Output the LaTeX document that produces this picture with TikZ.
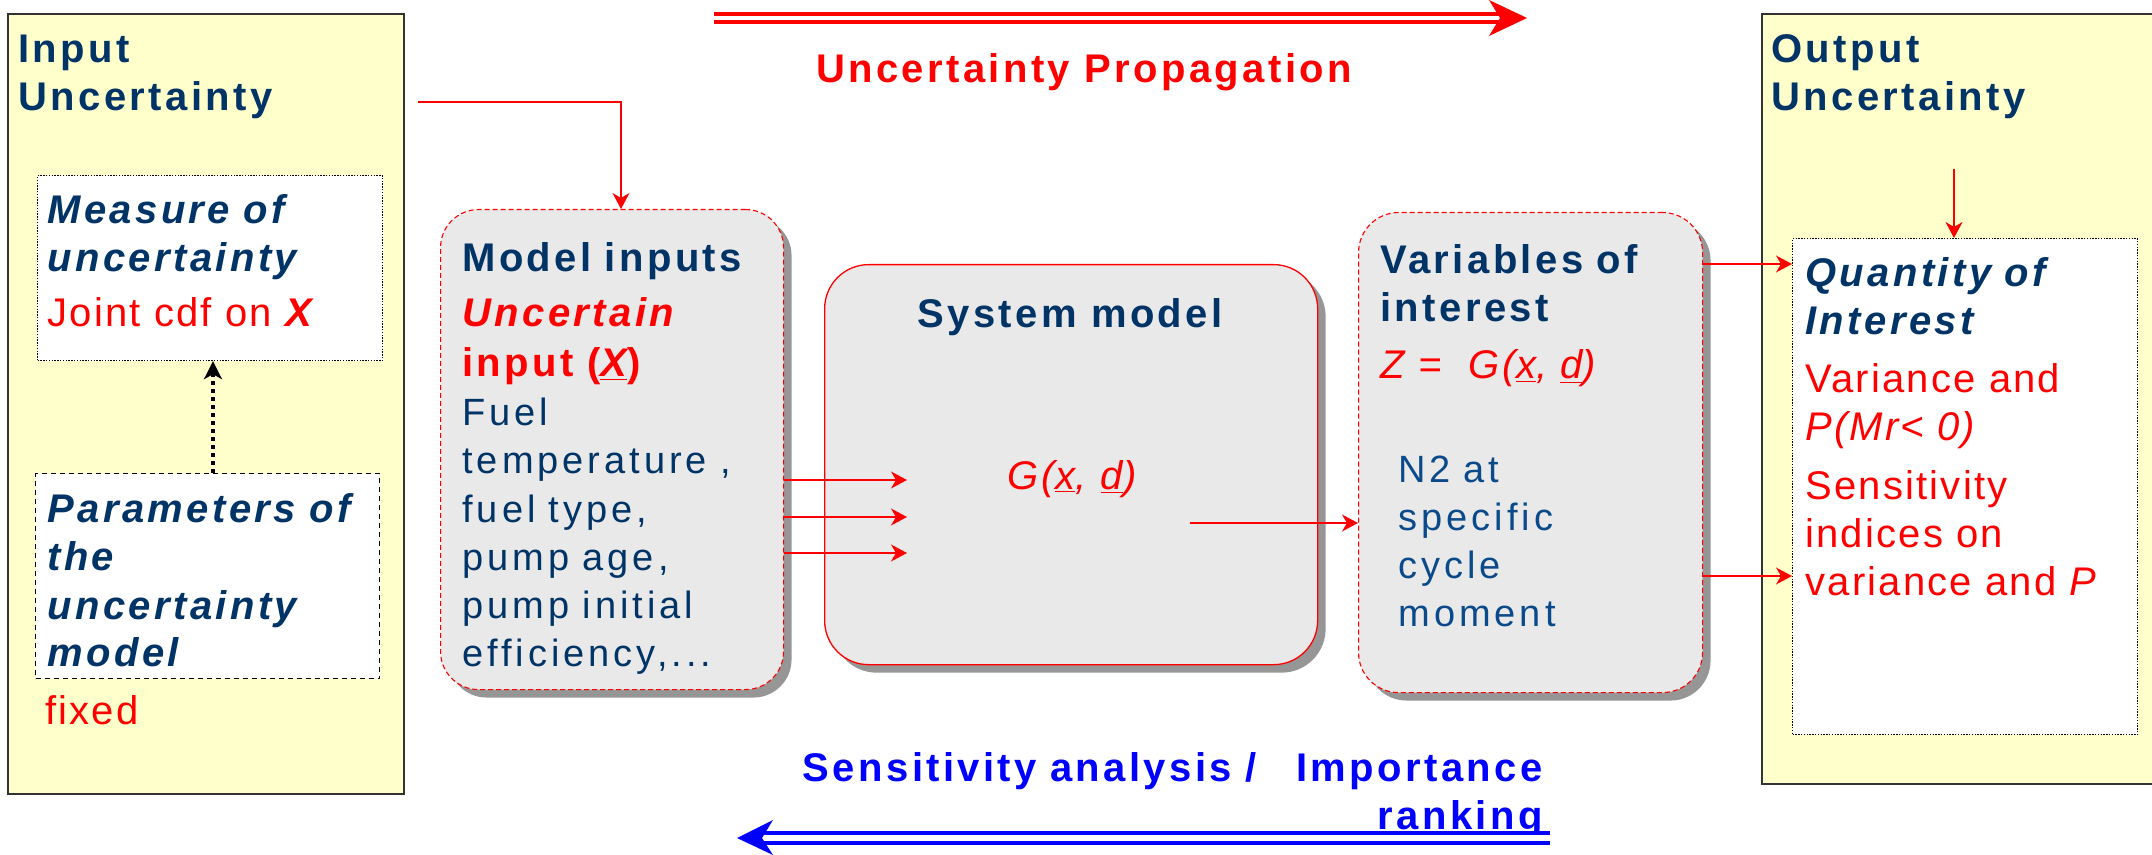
\documentclass[tikz,border=0pt]{standalone}
\usepackage{fontspec}
\setmainfont{Liberation Sans}
\newfontfamily\hdf[LetterSpace=8.5]{Liberation Sans}
\newfontfamily\bdf[LetterSpace=10.5]{Liberation Sans}
\newfontfamily\rdf[LetterSpace=5.5]{Liberation Sans}
\usetikzlibrary{arrows.meta,shadows}
\definecolor{dblue}{HTML}{003366}
\definecolor{mblue}{HTML}{0A4A8A}
\definecolor{yel}{HTML}{FFFFCC}
\definecolor{gfill}{HTML}{E9E9E9}
\definecolor{shad}{HTML}{969696}
\definecolor{rd}{HTML}{FF0000}
\definecolor{bl}{HTML}{0000FF}
\definecolor{boxline}{HTML}{333333}
\tikzset{
  ybox/.style={draw=boxline, line width=0.8pt, fill=yel, anchor=north west, inner sep=0pt},
  wdot/.style={draw=black, line width=0.6pt, dash pattern=on 0.7pt off 0.7pt, fill=white, anchor=north west, inner sep=0pt},
  wdash/.style={draw=black, line width=0.6pt, dash pattern=on 2.5pt off 2pt, fill=white, anchor=north west, inner sep=0pt},
  gbox/.style={fill=gfill, anchor=north west, inner sep=0pt, general shadow={fill=shad, shadow xshift=4pt, shadow yshift=-4pt}},
  rdash/.style={draw=rd, line width=0.55pt, dash pattern=on 2.5pt off 1.5pt},
  txt/.style={anchor=base west, inner sep=0pt, align=left, text width=230pt, font=\fontsize{20}{24}\selectfont},
  ctxt/.style={anchor=base, inner sep=0pt, font=\fontsize{20}{24}\selectfont},
  ra/.style={draw=rd, line width=0.65pt, -{Stealth[length=8pt,width=8.5pt,inset=2.5pt]}},
  dotarrow/.style={draw=black, line width=2pt, dash pattern=on 2pt off 2pt, -{Stealth[length=9pt,width=9pt,inset=2.5pt]}},
  dblarrow/.style={line width=1.75pt, double=white}
}
\begin{document}
\begin{tikzpicture}[x=0.5pt,y=-0.5pt]
\useasboundingbox (0,0) rectangle (2152,855);
% outer yellow boxes
\node[ybox, minimum width=198pt, minimum height=390pt] (inbox) at (7,13) {};
\node[ybox, minimum width=200pt, minimum height=385pt] (outbox) at (1761,13) {};
% white boxes
\node[wdot, minimum width=172.5pt, minimum height=92.5pt] (measure) at (37,175) {};
\node[wdash, minimum width=172pt, minimum height=102.5pt] (params) at (35,473) {};
\node[wdot, minimum width=172.5pt, minimum height=248pt] (quant) at (1792,238) {};
% grey rounded boxes
\node[gbox, rdash, rounded corners=19pt, minimum width=171.5pt, minimum height=240pt] (minputs) at (440,209) {};
\node[gbox, draw=rd, line width=0.65pt, rounded corners=22pt, minimum width=246.5pt, minimum height=200pt] (sysm) at (824,264) {};
\node[gbox, rdash, rounded corners=20pt, minimum width=172pt, minimum height=240pt] (vars) at (1358,212) {};

% texts
\node[txt] (intitle) at (18,63) {\hdf\bfseries\color{dblue}Input\\Uncertainty};
\node[txt] (outtitle) at (1771,63) {\hdf\bfseries\color{dblue}Output\\Uncertainty};
\node[txt] (measuretxt) at (47,224) {\hdf\bfseries\itshape\color{dblue}Measure of\\uncertainty\\[3.5pt]\rdf\mdseries\upshape\color{rd}Joint cdf on \hdf\bfseries\itshape X};
\node[txt] (paramstxt) at (47,523) {\hdf\bfseries\itshape\color{dblue}Parameters of\\the\\uncertainty\\model};
\node[txt] (fixedtxt) at (45,724) {\rdf\color{rd}fixed};
\node[txt] (minputstxt) at (462,272) {\hdf\bfseries\color{dblue}Model inputs\\[3.5pt]\itshape\color{rd}Uncertain\\[1pt]\upshape input (\underline{\itshape X})\\\bdf\mdseries\upshape\fontsize{19}{24.2}\selectfont\color{dblue}Fuel\\temperature ,\\fuel type,\\pump age,\\pump initial\\efficiency,...};
\node[ctxt] (sysmtxt) at (1070,328) {\hdf\bfseries\color{dblue}System model};
\node[ctxt] (gx) at (1072,489) {\hdf\itshape\color{rd}G(\underline{x}, \underline{d})};
\node[txt] (varstxt) at (1380,274) {\hdf\bfseries\color{dblue}Variables of\\interest\\[4.5pt]\hdf\mdseries\itshape\color{rd}Z =\ \ G(\underline{x}, \underline{d})};
\node[txt, font=\fontsize{19}{24}\selectfont] (n2txt) at (1398,482) {\bdf\color{mblue}N2 at\\specific\\cycle\\moment};
\node[txt] (quanttxt) at (1805,287) {\hdf\bfseries\itshape\color{dblue}Quantity of\\Interest\\[5pt]\rdf\mdseries\upshape\color{rd}Variance and\\\itshape P(Mr< 0)\\[5.5pt]\upshape Sensitivity\\indices on\\variance and \itshape P};
\node[ctxt] (proptxt) at (1084,83) {\hdf\bfseries\color{rd}Uncertainty Propagation};
\node[txt, anchor=base east, align=right, text width=420pt] (senstxt) at (1543,781) {\hdf\bfseries\color{bl}Sensitivity analysis /\ \ \ Importance\\ranking};

% connectors
\coordinate (a0) at (418,102);
\coordinate (t1) at (621,102);
\draw[ra] (a0) -- (t1) -- (t1 |- minputs.north);
\coordinate (s1) at (907,480);
\coordinate (s2) at (907,517);
\coordinate (s3) at (907,553);
\draw[ra] (minputs.east |- s1) -- (s1);
\draw[ra] (minputs.east |- s2) -- (s2);
\draw[ra] (minputs.east |- s3) -- (s3);
\coordinate (gout) at (1190,523);
\draw[ra] (gout) -- (gout -| vars.west);
\coordinate (r1) at (0,264);
\coordinate (r2) at (0,576);
\draw[ra] (vars.east |- r1) -- (quant.west |- r1);
\draw[ra] (vars.east |- r2) -- (quant.west |- r2);
\coordinate (o1) at (1954,169);
\draw[ra] (o1) -- (o1 |- quant.north);
\coordinate (d0) at (213,0);
\draw[dotarrow] (params.north -| d0) -- (measure.south -| d0);

% big double arrows
\coordinate (pa) at (714,18);
\coordinate (pe) at (1505,18);
\coordinate (pb) at (1527,18);
\draw[dblarrow, draw=rd, double distance=2.25pt] (pa) -- (pe);
\fill[rd] (pb) -- (1489,0) -- (1500,18) -- (1489,36) -- cycle;
\coordinate (ba) at (1550,838);
\coordinate (be) at (758,838);
\coordinate (bb) at (737,838);
\draw[dblarrow, draw=bl, double distance=3.25pt] (ba) -- (be);
\fill[bl] (bb) -- (773,820) -- (762,838) -- (773,855) -- cycle;
\end{tikzpicture}
\end{document}
